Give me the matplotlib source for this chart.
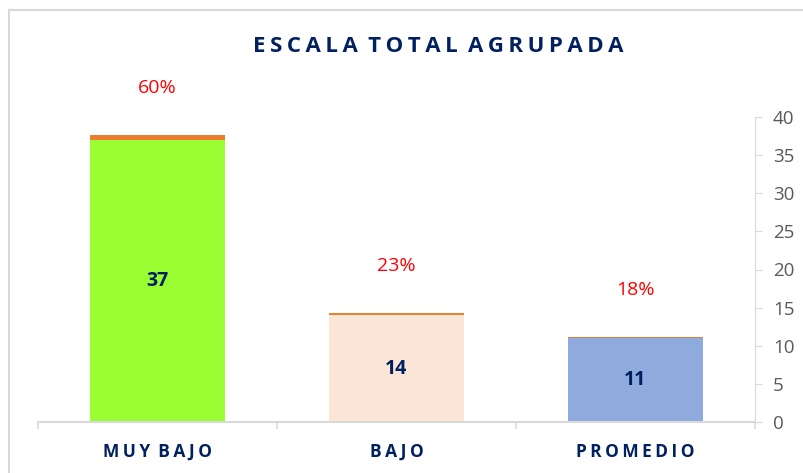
import matplotlib
matplotlib.use('Agg')
import matplotlib.pyplot as plt
from matplotlib.lines import Line2D
import numpy as np

# data
categories = ['MUY BAJO', 'BAJO', 'PROMEDIO']
counts     = [37, 14, 11]
shares     = [0.60, 0.23, 0.18]
pct_labels = ['60%', '23%', '18%']

BAR_COLORS = ['#99FF33', '#FBE5D6', '#8FAADC']
ORANGE     = '#ED7D31'
NAVY       = '#002060'
GRID_GRAY  = '#D9D9D9'
TICK_GRAY  = '#595959'

plt.rcParams['font.family'] = ['Open Sans', 'DejaVu Sans']


def spaced(text, gap='\u2009', word_gap=' \u2009'):
    """Mimic the letter spacing of the original title / labels."""
    return word_gap.join(gap.join(word) for word in text.split(' '))


fig = plt.figure(figsize=(8.04, 4.73), dpi=100)
ax = fig.add_axes([38 / 804, 1 - 422 / 473, 717 / 804, (422 - 117) / 473])

x = np.arange(len(categories))
ax.bar(x, counts, width=0.565, color=BAR_COLORS)
ax.bar(x, shares, width=0.565, bottom=counts, color=ORANGE)

for xi, c, s, p in zip(x, counts, shares, pct_labels):
    ax.text(xi, c / 2, str(c), ha='center', va='center',
            fontsize=14, fontweight='bold', color=NAVY)
    ax.annotate(p, (xi, c + s), xytext=(0, 34), textcoords='offset points',
                ha='center', va='center', fontsize=14, color='red')

ax.set_xlim(-0.5, 2.5)
ax.set_ylim(0, 40)

# right-hand value axis
ax.yaxis.tick_right()
ax.set_yticks(range(0, 41, 5))
ax.tick_params(axis='y', direction='out', length=5, color=GRID_GRAY,
               labelsize=13.5, labelcolor=TICK_GRAY, pad=8)

# category axis: labels centred, ticks between categories
ax.set_xticks(x)
ax.set_xticklabels([spaced(c) for c in categories], fontsize=12.5,
                   fontweight='bold', color=NAVY)
ax.tick_params(axis='x', length=0, pad=15)
ax.set_xticks([-0.5, 0.5, 1.5, 2.5], minor=True)
ax.tick_params(axis='x', which='minor', length=5, color=GRID_GRAY, width=1.2)

ax.spines[['top', 'left']].set_visible(False)
ax.spines['right'].set_color(GRID_GRAY)
ax.spines['bottom'].set_color(GRID_GRAY)
ax.spines['bottom'].set_linewidth(1.5)

fig.text(438 / 804, 1 - 46 / 473, spaced('ESCALA TOTAL AGRUPADA'),
         ha='center', va='center', fontsize=16, fontweight='bold', color=NAVY)

# chart frame (only left and top edges show in the crop)
fig.add_artist(Line2D([9 / 804, 9 / 804], [0, 1 - 10 / 473],
                      color=GRID_GRAY, lw=1.5))
fig.add_artist(Line2D([9 / 804, 1], [1 - 10 / 473, 1 - 10 / 473],
                      color=GRID_GRAY, lw=1.5))

plt.savefig('out.png', dpi=100)
plt.close()
